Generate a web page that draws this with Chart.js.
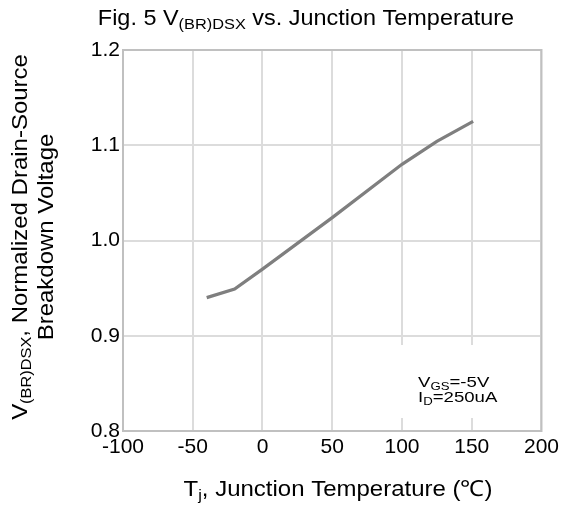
<!DOCTYPE html>
<html>
<head>
<meta charset="utf-8">
<script src="https://cdn.jsdelivr.net/npm/chart.js@4.4.1/dist/chart.umd.min.js"></script>
<style>
  html, body { margin: 0; padding: 0; background: #fff; }
  #wrap { width: 563px; height: 510px; }
</style>
</head>
<body>
<div id="wrap"><canvas id="bv-chart" width="563" height="510"></canvas></div>
<script>
// Fig. 5 - V(BR)DSX vs junction temperature
const temps = [-40, -20, 0, 50, 100, 125, 151];
const bvdsx = [0.940, 0.949, 0.970, 1.024, 1.080, 1.104, 1.125];
const xTicks = [-100, -50, 0, 50, 100, 150, 200];
const yTicks = [0.8, 0.9, 1.0, 1.1, 1.2];

const FONT = '"Liberation Sans", Arial, sans-serif';
const BORDER_GRAY = '#c0c0c0';
const GRID_GRAY = '#dcdcdc';

// draws text with subscripts, parts = [[text, isSub], ...]
// sx = horizontal stretch (the original lettering is a bit wide)
function drawRich(ctx, parts, x, y, size, align, sx) {
    sx = sx || 1;
    const subSize = Math.round(size * 0.68);
    let total = 0;
    parts.forEach(p => {
        ctx.font = (p[1] ? subSize : size) + 'px ' + FONT;
        total += ctx.measureText(p[0]).width * sx;
    });
    let cx = x;
    if (align === 'center') cx = x - total / 2;
    if (align === 'right') cx = x - total;
    ctx.textAlign = 'left';
    ctx.textBaseline = 'alphabetic';
    parts.forEach(p => {
        ctx.font = (p[1] ? subSize : size) + 'px ' + FONT;
        const w = ctx.measureText(p[0]).width * sx;
        ctx.save();
        ctx.translate(cx, p[1] ? y + size * 0.18 : y);
        ctx.scale(sx, 1);
        ctx.fillText(p[0], 0, 0);
        ctx.restore();
        cx += w;
    });
}

const decorPlugin = {
    id: 'decor',
    beforeDatasetsDraw(chart) {
        const ctx = chart.ctx;
        const a = chart.chartArea;
        ctx.save();
        // white patch behind the test conditions
        ctx.fillStyle = '#fff';
        ctx.fillRect(396, 345, 108, 73);
        ctx.fillStyle = '#000';
        drawRich(ctx, [['V', false], ['GS', true], ['=-5V', false]], 418, 387, 15.5, 'left', 1.2);
        drawRich(ctx, [['I', false], ['D', true], ['=250uA', false]], 418, 402, 15.5, 'left', 1.2);
        // plot frame
        ctx.strokeStyle = BORDER_GRAY;
        ctx.lineWidth = 2;
        ctx.strokeRect(a.left, a.top, a.right - a.left, a.bottom - a.top);
        ctx.restore();
    },
    afterDraw(chart) {
        const ctx = chart.ctx;
        ctx.save();
        ctx.fillStyle = '#000';
        // title
        drawRich(ctx, [['Fig. 5 V', false], ['(BR)DSX', true], [' vs. Junction Temperature', false]], 306, 25, 21.5, 'center', 1.09);
        // x axis title
        drawRich(ctx, [['T', false], ['j', true], [', Junction Temperature (\u2103)', false]], 338, 496, 22, 'center', 1.09);
        // y axis title, two lines rotated
        ctx.translate(0, 237);
        ctx.rotate(-Math.PI / 2);
        drawRich(ctx, [['V', false], ['(BR)DSX', true], [', Normalized Drain-Source', false]], 0, 27, 22, 'center', 1.09);
        drawRich(ctx, [['Breakdown Voltage', false]], 0, 53, 22, 'center', 1.09);
        ctx.restore();
    }
};

const ctx = document.getElementById('bv-chart').getContext('2d');
const myChart = new Chart(ctx, {
    type: 'line',
    data: {
        datasets: [{
            data: temps.map((t, i) => ({ x: t, y: bvdsx[i] })),
            borderColor: '#7f7f7f',
            borderWidth: 3.2,
            pointRadius: 0,
            tension: 0,
            fill: false
        }]
    },
    options: {
        responsive: false,
        animation: false,
        layout: { padding: { top: 50, right: 21, left: 0, bottom: 0 } },
        plugins: {
            legend: { display: false },
            tooltip: { enabled: false }
        },
        scales: {
            x: {
                type: 'linear',
                min: -100,
                max: 200,
                afterFit: s => { s.height = 79; },
                afterBuildTicks: s => { s.ticks = xTicks.map(v => ({ value: v })); },
                ticks: {
                    color: '#000',
                    padding: 4,
                    maxRotation: 0,
                    font: { family: FONT, size: 21 },
                    callback: v => String(v)
                },
                grid: { color: GRID_GRAY, lineWidth: 2, drawTicks: false },
                border: { display: false }
            },
            y: {
                type: 'linear',
                min: 0.8,
                max: 1.2,
                afterFit: s => { s.width = 123; },
                afterBuildTicks: s => { s.ticks = yTicks.map(v => ({ value: v })); },
                ticks: {
                    color: '#000',
                    padding: 3,
                    font: { family: FONT, size: 21 },
                    callback: v => Number(v).toFixed(1)
                },
                grid: { color: GRID_GRAY, lineWidth: 2, drawTicks: false },
                border: { display: false }
            }
        }
    },
    plugins: [decorPlugin]
});
</script>
</body>
</html>
